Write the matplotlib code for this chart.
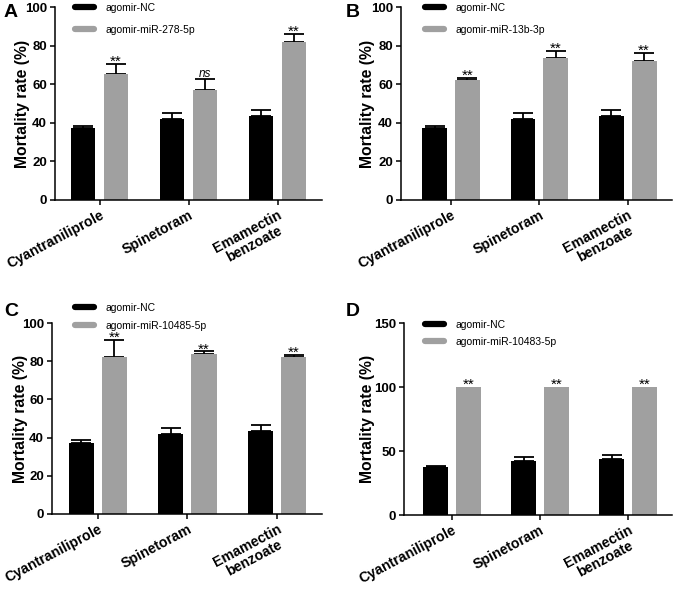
import numpy as np
import matplotlib
matplotlib.use('Agg')
import matplotlib.pyplot as plt
from matplotlib.lines import Line2D
from matplotlib.transforms import ScaledTranslation

plt.rcParams['font.family'] = ['Liberation Sans', 'DejaVu Sans']

CATEGORIES = ["Cyantraniliprole", "Spinetoram", "Emamectin\nbenzoate"]

# control group (same in every panel)
NC_MEAN = [37.2, 42.1, 43.7]
NC_ERR = [1.3, 3.0, 3.0]

A_LABEL = "agomir-miR-278-5p"
A_MEAN = [65.4, 57.0, 82.0]
A_ERR = [5.2, 5.8, 4.0]
A_SIG = ["**", "ns", "**"]

B_LABEL = "agomir-miR-13b-3p"
B_MEAN = [62.0, 73.8, 72.0]
B_ERR = [1.4, 3.5, 4.2]
B_SIG = ["**", "**", "**"]

C_LABEL = "agomir-miR-10485-5p"
C_MEAN = [82.0, 84.0, 82.0]
C_ERR = [9.0, 1.2, 1.4]
C_SIG = ["**", "**", "**"]

D_LABEL = "agomir-miR-10483-5p"
D_MEAN = [100.0, 100.0, 100.0]
D_ERR = [0.0, 0.0, 0.0]
D_SIG = ["**", "**", "**"]

BLACK = '#000000'
GREY = '#a0a0a0'
W, H = 675, 590


def px_rect(left, right, top, bottom):
    return [left / W, 1 - bottom / H, (right - left) / W, (bottom - top) / H]


def draw_panel(fig, rect, xlim, ymax, yticks, label, mean, err, sig,
               letter, letter_xy, leg_xy, leg_spacing, ylab_x):
    ax = fig.add_axes(rect)
    x = np.arange(len(CATEGORIES))
    off, bw = 0.185, 0.28
    ax.bar(x - off, NC_MEAN, bw, color=BLACK, zorder=2)
    ax.bar(x + off, mean, bw, color=GREY, zorder=2)
    ax.errorbar(x - off, NC_MEAN, yerr=[np.zeros(3), NC_ERR], fmt='none',
                ecolor=BLACK, elinewidth=1.3, capsize=7, capthick=1.3, zorder=1)
    e = np.array(err)
    mask = e > 0
    ax.errorbar((x + off)[mask], np.array(mean)[mask],
                yerr=[np.zeros(mask.sum()), e[mask]], fmt='none',
                ecolor=BLACK, elinewidth=1.3, capsize=7, capthick=1.3, zorder=1)
    for xi, m, er, s in zip(x + off, mean, err, sig):
        if s == "ns":
            ax.annotate(s, (xi, m + er), xytext=(0, 1.5), textcoords='offset points',
                        ha='center', va='baseline', fontsize=8.5, style='italic')
        else:
            ax.annotate(s, (xi, m + er), xytext=(0, -1.5), textcoords='offset points',
                        ha='center', va='baseline', fontsize=11)

    ax.set_xlim(*xlim)
    ax.set_ylim(0, ymax)
    ax.set_yticks(yticks)
    ax.set_xticks(x)
    ax.set_xticklabels(CATEGORIES, rotation=28, ha='right', va='top',
                       rotation_mode='anchor', fontsize=10.2, fontweight='bold',
                       multialignment='center', linespacing=1.05)
    shift = ScaledTranslation(6 / 100, 0, fig.dpi_scale_trans)
    for t in ax.get_xticklabels():
        t.set_transform(t.get_transform() + shift)
    for t in ax.get_yticklabels():
        t.set_fontweight('bold')
        t.set_fontsize(9.5)
    ax.tick_params(axis='both', direction='out', length=3.7, width=1.1, pad=2)
    for sp in ['top', 'right']:
        ax.spines[sp].set_visible(False)
    for sp in ['left', 'bottom']:
        ax.spines[sp].set_linewidth(1.1)
    ax.set_ylabel("Mortality rate (%)", fontsize=11.3, fontweight='bold')
    ax.yaxis.set_label_coords(ylab_x, 0.5)

    handles = [Line2D([], [], color=BLACK, lw=4.5, solid_capstyle='round'),
               Line2D([], [], color=GREY, lw=4.5, solid_capstyle='round')]
    ax.legend(handles, ["agomir-NC", label], loc='upper left',
              bbox_to_anchor=(leg_xy[0] / W, 1 - leg_xy[1] / H),
              bbox_transform=fig.transFigure, frameon=False, fontsize=7.5,
              handlelength=1.83, handletextpad=1.06, labelspacing=leg_spacing,
              borderpad=0, borderaxespad=0)

    fig.text(letter_xy[0] / W, 1 - letter_xy[1] / H, letter, fontsize=14,
             fontweight='bold', ha='left', va='top')
    return ax


fig = plt.figure(figsize=(W / 100, H / 100), dpi=100)

draw_panel(fig, px_rect(55, 322, 7, 200), (-0.5, 2.5), 100, [0, 20, 40, 60, 80, 100],
           A_LABEL, A_MEAN, A_ERR, A_SIG, "A", (4, 4), (75, 3), 1.14, -0.095)
draw_panel(fig, px_rect(401, 672, 7, 200), (-0.565, 2.5), 100, [0, 20, 40, 60, 80, 100],
           B_LABEL, B_MEAN, B_ERR, B_SIG, "B", (346, 4), (425, 3), 1.14, -0.095)
draw_panel(fig, px_rect(52, 322, 323, 514), (-0.51, 2.5), 100, [0, 20, 40, 60, 80, 100],
           C_LABEL, C_MEAN, C_ERR, C_SIG, "C", (4, 303), (75, 303), 0.76, -0.09)
draw_panel(fig, px_rect(404, 672, 323, 515), (-0.545, 2.5), 150, [0, 50, 100, 150],
           D_LABEL, D_MEAN, D_ERR, D_SIG, "D", (346, 303), (425, 320), 0.66, -0.108)

fig.savefig("out.png", dpi=100)
